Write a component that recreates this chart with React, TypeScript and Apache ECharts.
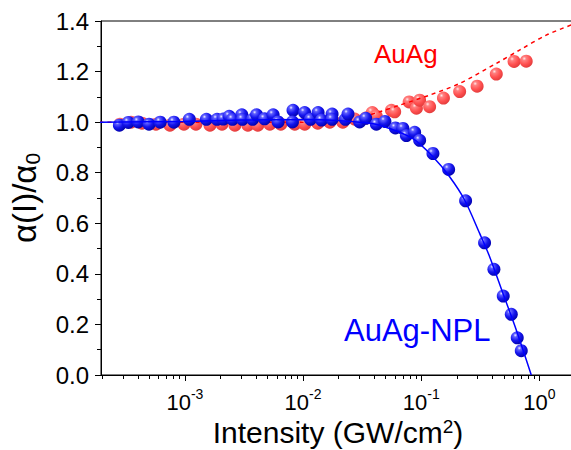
import React, { useEffect, useRef } from 'react';
import * as echarts from 'echarts';

// Measured AuAg-NPL (blue) points: intensity (GW/cm^2) and alpha(I)/alpha0
const blueI = [2.79e-4, 3.32e-4, 4.03e-4, 4.97e-4, 6.18e-4, 8.07e-4, 1.09e-3, 1.52e-3, 1.87e-3, 2.11e-3, 2.37e-3, 2.53e-3, 3.03e-3, 3.07e-3, 3.74e-3, 4.04e-3, 4.72e-3, 5.58e-3, 6.15e-3, 8.22e-3, 8.13e-3, 0.0103, 0.01155, 0.0134, 0.01432, 0.0176, 0.0176, 0.0228, 0.024, 0.0301, 0.0339, 0.0417, 0.0493, 0.0604, 0.07, 0.0748, 0.0879, 0.0969, 0.1256, 0.1705, 0.2373, 0.3434, 0.412, 0.494, 0.578, 0.649, 0.702];
const blueA = [0.988, 0.999, 1.001, 0.992, 1.0, 1.0, 1.011, 1.011, 1.011, 1.012, 1.023, 1.011, 1.029, 1.011, 1.011, 1.029, 1.013, 1.029, 1.001, 1.047, 1.001, 1.038, 1.011, 1.038, 1.008, 1.032, 1.011, 1.011, 1.032, 1.001, 1.015, 0.992, 1.003, 0.977, 0.975, 0.947, 0.96, 0.928, 0.876, 0.813, 0.689, 0.523, 0.418, 0.312, 0.24, 0.147, 0.096];

// Measured AuAg (red) points
const redI = [2.82e-4, 3.5e-4, 4.33e-4, 5.69e-4, 7.47e-4, 9.81e-4, 1.24e-3, 1.63e-3, 2.06e-3, 2.65e-3, 3.41e-3, 4.14e-3, 5.23e-3, 6.48e-3, 8.51e-3, 0.01033, 0.01331, 0.01682, 0.02168, 0.02737, 0.0339, 0.0385, 0.0416, 0.0559, 0.0596, 0.079, 0.091, 0.0969, 0.1177, 0.1541, 0.2113, 0.297, 0.4315, 0.61, 0.773];
const redA = [0.992, 1.0, 0.996, 0.992, 0.988, 0.992, 0.992, 0.988, 0.992, 0.988, 0.988, 0.988, 0.992, 0.992, 0.992, 0.992, 0.996, 1.0, 1.0, 1.012, 1.016, 1.038, 1.024, 1.047, 1.041, 1.08, 1.055, 1.087, 1.061, 1.095, 1.121, 1.142, 1.19, 1.24, 1.241];

// Fit curves
const blueFitI = [1.9e-4, 1e-3, 3e-3, 0.01, 0.02, 0.03, 0.0445, 0.0849, 0.1256, 0.1738, 0.2328, 0.312, 0.379, 0.491, 0.637, 0.853];
const blueFitA = [1.0, 1.003, 1.008, 1.01, 1.006, 1.0, 0.988, 0.935, 0.863, 0.784, 0.692, 0.56, 0.468, 0.323, 0.178, 0.0];
const redFitI = [1.9e-4, 0.01, 0.0204, 0.0301, 0.0445, 0.0656, 0.1177, 0.211, 0.431, 0.679, 1.142, 2.0];
const redFitA = [1.0, 1.0, 1.005, 1.018, 1.041, 1.067, 1.107, 1.153, 1.232, 1.285, 1.344, 1.39];

// Axis settings (x in decades)
const xMin = 1.95e-4;
const xMax = 2.0;
const xMajorExp = [-3, -2, -1, 0];
const xMinorMult = [2, 3, 4, 5, 6, 7, 8, 9];
const xMinorDecades = [-4, -3, -2, -1, 0];

const FONT = 'Liberation Sans, Arial, sans-serif';

const toPts = (xs: number[], ys: number[]) => xs.map((x, i) => [Math.log10(x), ys[i]]);

export default function App() {
  const ref = useRef<HTMLDivElement>(null);
  useEffect(() => {
    if (!ref.current) return;
    const chart = echarts.init(ref.current, undefined, { renderer: 'svg' });
    const minor: number[] = [];
    xMinorDecades.forEach((d) => xMinorMult.forEach((m) => {
      const v = Math.log10(m) + d;
      if (v > Math.log10(xMin) && v < Math.log10(xMax)) minor.push(v);
    }));
    const blueBall = new echarts.graphic.RadialGradient(0.35, 0.3, 0.75, [
      { offset: 0, color: '#f0f0ff' },
      { offset: 0.18, color: '#6060ff' },
      { offset: 0.55, color: '#1515ee' },
      { offset: 1, color: '#0000a8' },
    ]);
    const redBall = new echarts.graphic.RadialGradient(0.35, 0.3, 0.75, [
      { offset: 0, color: '#ffe8e8' },
      { offset: 0.2, color: '#ff8080' },
      { offset: 0.6, color: '#ff5050' },
      { offset: 1, color: '#e03a3a' },
    ]);
    const black = '#000';
    const option: any = {
      animation: false,
      grid: {
        left: 101, top: 21, width: 474, height: 354, show: true, borderColor: black, borderWidth: 1,
        backgroundColor: 'transparent', containLabel: false, outerBoundsMode: 'none',
      },
      xAxis: [
        {
          type: 'value',
          min: Math.log10(xMin),
          max: Math.log10(xMax),
          position: 'bottom',
          splitLine: { show: false },
          axisLine: { show: true, onZero: false, lineStyle: { color: black, width: 1 } },
          axisTick: { show: true, customValues: xMajorExp, length: 6, lineStyle: { color: black } },
          axisLabel: {
            customValues: xMajorExp,
            margin: 12,
            color: black,
            formatter: (v: number) => `{b|10}{s|${Math.round(v)}}`,
            rich: {
              b: { fontSize: 22, fontFamily: FONT, color: black, lineHeight: 30 },
              s: { fontSize: 14, fontFamily: FONT, color: black, verticalAlign: 'top', lineHeight: 16 },
            },
          },
          name: 'Intensity (GW/cm{s|2})',
          nameLocation: 'middle',
          nameGap: 42,
          nameMoveOverlap: false,
          nameTextStyle: {
            fontSize: 30, fontFamily: FONT, color: black,
            rich: {
              s: { fontSize: 19, fontFamily: FONT, color: black, verticalAlign: 'top', lineHeight: 20 },
            },
          },
        },
        {
          type: 'value',
          min: Math.log10(xMin),
          max: Math.log10(xMax),
          position: 'bottom',
          splitLine: { show: false },
          axisLine: { show: false, onZero: false },
          axisTick: { show: true, customValues: minor, length: 4, lineStyle: { color: black } },
          axisLabel: { show: false },
        },
      ],
      yAxis: {
        type: 'value',
        min: 0,
        max: 1.4,
        interval: 0.2,
        splitLine: { show: false },
        axisLine: { show: true, onZero: false, lineStyle: { color: black, width: 1 } },
        axisTick: { show: true, length: 6, lineStyle: { color: black } },
        minorTick: { show: true, splitNumber: 2, length: 4, lineStyle: { color: black } },
        axisLabel: {
          margin: 12, fontSize: 24, fontFamily: FONT, color: black,
          formatter: (v: number) => v.toFixed(1),
        },
        name: 'α(I)/α{s|0}',
        nameLocation: 'middle',
        nameGap: 58,
        nameRotate: 90,
        nameMoveOverlap: false,
        nameTextStyle: {
          fontSize: 33, fontFamily: FONT, color: black,
          rich: {
            s: { fontSize: 21, fontFamily: FONT, color: black, verticalAlign: 'bottom', lineHeight: 38 },
          },
        },
      },
      graphic: [
        { type: 'text', left: 374, top: 41, style: { text: 'AuAg', fill: '#ff0000', fontSize: 26, fontFamily: FONT } },
        { type: 'text', left: 344, top: 315, style: { text: 'AuAg-NPL', fill: '#0000ff', fontSize: 31, fontFamily: FONT } },
      ],
      series: [
        {
          type: 'scatter', name: 'AuAg', data: toPts(redI, redA),
          symbol: 'circle', symbolSize: 13, itemStyle: { color: redBall, opacity: 1 }, z: 2,
        },
        {
          type: 'line', name: 'AuAg fit', data: toPts(redFitI, redFitA), smooth: 0.3,
          showSymbol: false, symbol: 'none', lineStyle: { color: '#ff0000', width: 1.5, type: [4, 4] }, z: 3,
        },
        {
          type: 'scatter', name: 'AuAg-NPL', data: toPts(blueI, blueA),
          symbol: 'circle', symbolSize: 13, itemStyle: { color: blueBall, opacity: 1 }, z: 4,
        },
        {
          type: 'line', name: 'AuAg-NPL fit', data: toPts(blueFitI, blueFitA), smooth: 0.3,
          showSymbol: false, symbol: 'none', lineStyle: { color: '#0000ff', width: 1.5 }, z: 5,
        },
      ],
    };
    chart.setOption(option);
    return () => chart.dispose();
  }, []);
  return <div ref={ref} style={{ position: 'fixed', left: 0, top: 0, width: 571, height: 450, background: '#fff' }} />;
}
